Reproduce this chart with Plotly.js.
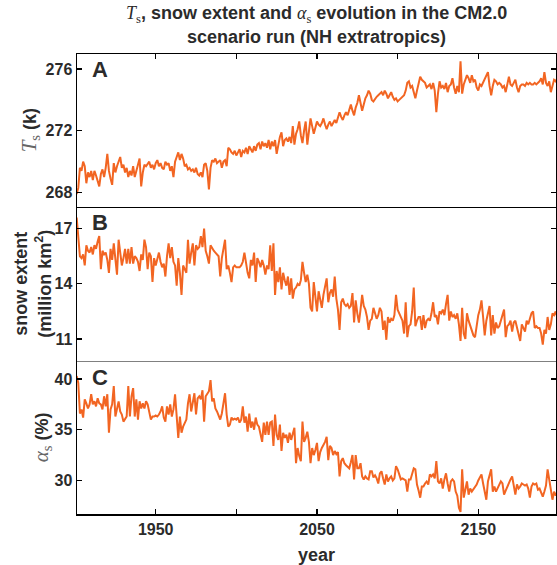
<!DOCTYPE html>
<html>
<head>
<meta charset="utf-8">
<script src="https://cdn.plot.ly/plotly-3.0.1.min.js"></script>
<style>html,body{margin:0;padding:0;background:#fff;}#chart{width:557px;height:565px;}</style>
</head>
<body>
<div id="chart"></div>
<script>
const startYear = 1901;

const surfaceTemp = [
267.9,268.3,269.6,269.4,270.0,269.7,268.6,269.3,269.0,269.4,
268.8,269.4,269.1,268.7,268.4,269.2,269.5,269.0,269.6,270.5,
269.4,268.9,268.5,269.9,269.3,269.7,270.0,270.3,269.6,269.8,
269.3,269.6,269.0,269.4,269.1,269.7,269.0,269.5,269.8,270.2,
268.4,269.3,269.8,269.7,269.9,270.0,269.6,269.8,269.5,269.9,
270.1,269.7,269.9,269.6,269.5,270.0,269.8,269.9,269.4,269.7,
269.0,270.0,270.3,270.6,270.1,270.5,270.2,269.7,269.8,269.5,
269.6,269.4,269.5,269.3,269.6,269.2,269.1,269.3,269.0,269.8,
269.9,269.4,268.2,269.6,270.1,270.0,270.2,269.9,270.0,270.1,
269.6,270.0,270.1,269.7,270.9,270.8,270.6,270.5,270.7,270.4,
270.6,270.8,270.3,270.7,270.6,270.9,270.5,271.0,270.8,270.6,
271.0,270.7,271.1,271.2,270.8,271.3,271.0,271.2,270.9,271.4,
270.8,271.3,271.0,271.4,270.5,271.2,271.6,271.9,271.0,271.4,
271.5,271.3,271.6,271.2,272.3,271.1,271.8,272.1,272.6,271.7,
271.2,272.0,272.6,271.1,272.2,272.8,272.3,271.8,272.2,272.6,
272.4,272.3,272.5,272.8,272.4,272.1,272.4,272.6,272.3,272.5,
272.7,272.5,272.9,273.2,272.9,272.7,273.0,273.2,273.0,273.4,
273.7,273.3,273.0,273.5,273.8,274.3,273.8,273.3,273.7,274.1,
274.3,274.6,274.4,274.0,273.9,274.1,274.2,274.3,274.4,274.5,
274.3,274.6,274.4,274.1,274.3,274.5,274.2,274.0,274.1,273.9,
274.0,274.1,274.2,274.3,274.6,275.1,275.2,274.8,274.9,274.5,
274.1,274.6,275.0,275.5,275.3,275.2,275.1,274.8,274.9,275.0,
274.7,275.1,274.6,273.2,274.4,275.2,274.8,274.9,274.7,275.1,
274.5,274.9,275.0,275.4,274.8,274.4,274.9,274.5,276.5,274.4,
275.0,275.3,275.6,275.4,275.1,275.6,275.2,275.3,274.8,274.6,
275.0,274.9,275.1,275.3,275.5,275.8,274.9,274.3,274.9,275.3,
275.2,275.0,275.1,275.0,274.8,274.9,274.5,275.1,275.5,275.0,
274.9,275.1,275.3,274.8,274.5,274.9,275.0,275.0,274.9,275.1,
275.0,275.1,275.0,275.0,275.1,275.0,275.1,275.2,275.4,275.0,
275.8,275.1,274.9,275.2,274.5,275.0,275.3,275.2,275.4,275.3
];

const snowExtent = [
17.6,16.4,15.5,15.4,15.6,15.0,16.1,15.8,15.7,16.0,
15.6,16.1,15.9,16.3,16.6,14.8,15.8,15.6,15.7,15.3,
14.6,15.9,15.3,16.2,15.5,14.5,16.4,15.6,15.0,15.4,
15.9,15.1,15.9,15.1,16.0,15.1,15.5,15.4,15.2,14.7,
15.6,15.3,16.4,16.0,14.8,15.7,15.5,14.1,15.4,15.0,
15.3,15.7,15.2,14.9,15.1,14.4,15.5,16.2,15.4,16.0,
15.2,15.0,13.9,15.4,14.6,13.4,15.0,14.8,14.6,16.4,
15.1,15.7,16.2,15.0,16.1,15.9,16.0,16.6,16.0,17.0,
15.8,15.5,15.1,16.1,15.9,15.8,15.7,15.6,15.5,14.4,
15.4,15.9,16.4,14.8,15.0,14.6,14.1,14.9,15.0,14.9,
14.9,14.9,15.0,15.2,15.7,15.0,14.6,14.3,15.3,15.0,
15.7,14.1,15.4,15.2,14.9,15.3,15.0,14.5,15.0,14.8,
16.1,14.7,16.2,13.4,14.7,14.1,14.9,13.7,14.6,14.2,
13.9,14.4,13.4,14.3,13.2,13.7,13.8,14.0,13.9,14.2,
15.2,14.6,14.1,14.5,14.0,12.7,12.5,14.1,13.2,12.5,
13.6,13.2,12.7,13.4,13.8,14.3,13.0,13.5,13.7,13.3,
14.4,13.2,12.6,11.5,13.0,13.2,12.9,12.8,12.9,12.7,
12.8,13.5,11.9,13.1,12.4,11.9,12.6,13.4,12.8,12.6,
12.2,11.5,12.0,12.1,12.7,12.4,12.1,12.3,12.7,12.5,
11.5,12.0,10.96,12.2,11.9,12.1,12.0,12.3,13.4,12.6,
12.4,12.2,12.0,11.3,13.0,11.1,11.7,11.8,12.5,13.8,
11.7,12.0,12.2,12.2,11.5,12.3,11.6,12.0,12.1,12.0,
12.4,13.0,12.2,12.3,11.8,12.5,12.4,12.6,12.3,12.9,
13.4,12.0,12.5,12.2,12.3,12.1,12.4,11.8,10.9,12.7,
11.3,11.0,12.4,12.0,11.7,11.4,11.2,11.1,11.7,12.3,
12.6,13.1,12.2,11.2,12.0,12.5,12.8,11.2,12.3,11.3,
11.9,11.6,11.7,12.0,12.3,12.6,11.1,11.7,11.8,12.0,
11.4,11.9,12.0,11.6,11.2,10.9,11.8,11.6,11.4,12.0,
11.8,12.1,12.4,12.5,11.6,11.7,11.6,11.6,11.3,10.7,
11.5,11.3,12.2,11.5,11.8,12.4,12.3,12.5,12.2,12.1
];

const albedo = [
40.3,39.6,36.6,37.0,36.2,38.0,37.6,37.1,37.5,38.5,
37.5,37.8,37.3,38.1,37.6,37.5,37.0,38.3,37.3,38.5,
34.7,37.0,37.5,39.3,36.3,37.0,37.8,36.8,36.5,35.8,
36.0,36.3,39.3,36.3,38.3,39.1,36.3,38.0,36.0,37.8,
37.1,37.6,37.1,37.8,37.5,36.8,36.0,36.3,36.3,36.4,
36.3,36.5,36.8,37.3,36.2,35.8,37.3,36.5,37.5,36.3,
37.0,38.5,35.7,34.2,36.3,34.7,35.3,35.6,36.0,37.6,
38.5,36.8,37.8,38.6,36.5,38.1,38.3,38.0,38.9,35.8,
38.3,38.5,38.8,39.9,37.8,38.1,37.1,36.8,36.3,36.0,
36.6,37.8,38.6,36.5,35.3,35.5,36.2,36.0,36.1,36.0,
36.2,35.7,36.0,37.3,35.7,36.3,34.8,36.6,35.2,35.8,
35.0,36.2,35.5,35.3,34.6,33.8,35.7,34.5,35.8,34.5,
35.7,35.8,33.4,36.5,34.5,34.0,35.5,32.9,34.7,34.2,
34.5,33.7,34.7,34.0,34.6,35.2,31.7,33.2,32.4,31.9,
35.8,33.8,34.2,34.8,33.8,31.7,33.2,32.5,33.0,33.7,
31.9,32.8,33.2,33.5,33.8,34.3,32.0,33.4,33.2,32.5,
32.9,32.6,32.8,30.4,31.9,32.2,31.7,31.5,31.3,31.2,
31.8,32.5,30.1,32.5,31.2,31.2,31.7,30.4,30.1,30.4,
30.2,30.1,30.9,30.9,30.3,30.5,30.2,29.7,30.7,30.9,
30.2,29.6,30.6,29.9,30.2,30.4,30.0,30.2,31.4,31.1,
30.6,30.1,30.2,30.1,30.0,28.9,30.1,30.1,30.6,31.2,
31.1,29.6,29.0,28.3,29.4,29.4,29.7,29.9,29.6,30.6,
30.4,30.6,30.2,31.9,29.9,29.7,30.2,29.2,30.1,30.7,
29.7,28.9,29.9,30.1,29.9,28.9,28.5,27.3,26.9,31.1,
28.3,29.1,29.9,28.6,29.2,28.9,29.1,29.4,29.6,30.0,
30.3,30.6,29.7,29.0,28.1,29.9,30.6,31.1,28.9,29.4,
28.9,29.2,29.5,29.9,29.7,28.6,29.0,29.4,29.8,30.1,
30.4,29.4,28.6,29.6,29.2,29.4,29.7,29.6,29.5,29.6,
29.2,28.3,29.4,29.7,29.6,29.7,29.1,29.2,28.8,28.4,
28.9,29.5,31.1,30.2,29.4,28.1,28.9,28.5,28.9,28.3
];

const xLabelTicks = [1950, 2050, 2150];
const xMinorTicks = [2000, 2100];
const xAllTicks = [1950, 2000, 2050, 2100, 2150];
const tsTicks = [268, 272, 276];
const snowTicks = [11, 14, 17];
const albedoTicks = [30, 35, 40];
const panelLetters = ['A', 'B', 'C'];

const years = [];
for (let i = 0; i < surfaceTemp.length; i++) years.push(startYear + i);

const lineColor = '#F26522';
const txt = '#2b2b2b';
const FONT = 'Liberation Sans, Arial, sans-serif';

function trace(y, xa, ya) {
  return {x: years, y: y, xaxis: xa, yaxis: ya, type: 'scatter', mode: 'lines',
    line: {color: lineColor, width: 2}, hoverinfo: 'skip', showlegend: false};
}

const xr = [1901.2, 2198.2];
function yax(domain, range, ticks) {
  return {domain: domain, range: range, tickvals: ticks, ticks: 'inside', ticklen: 5,
    tickwidth: 1.2, tickcolor: '#000', showline: true, linecolor: '#000', linewidth: 1.5,
    mirror: 'ticks', showgrid: false, zeroline: false,
    tickfont: {family: FONT, size: 16, color: txt, weight: 'bold'}};
}

const serif = "font-family:Liberation Serif, DejaVu Serif, serif;font-weight:normal";

const layout = {
  width: 557, height: 565,
  margin: {l: 77, r: 1, t: 54, b: 51},
  paper_bgcolor: '#fff', plot_bgcolor: '#fff',
  font: {family: FONT, color: txt},
  xaxis: {anchor: 'y', side: 'top', range: xr, tickvals: xAllTicks, showticklabels: false,
    ticks: 'inside', ticklen: 5, tickwidth: 1.2, tickcolor: '#000', showline: true,
    linecolor: '#000', linewidth: 1.5, mirror: true, showgrid: false, zeroline: false},
  xaxis2: {anchor: 'y2', range: xr, showticklabels: false, ticks: '', showline: true,
    linecolor: '#808080', linewidth: 1.5, showgrid: false, zeroline: false},
  xaxis3: {anchor: 'y3', range: xr, tickvals: xLabelTicks,
    ticks: 'inside', ticklen: 5, tickwidth: 1.2, tickcolor: '#000', showline: true,
    linecolor: '#000', linewidth: 1.5, showgrid: false, zeroline: false,
    minor: {tickvals: xMinorTicks, ticks: 'inside', ticklen: 5, tickwidth: 1.2, tickcolor: '#000', showgrid: false},
    tickfont: {family: FONT, size: 16, color: txt, weight: 'bold'}},
  yaxis: yax([0.6683, 1], [267.09, 276.97], tsTicks),
  yaxis2: yax([0.3331, 0.6683], [9.82, 18.2], snowTicks),
  yaxis3: yax([0, 0.3331], [26.69, 41.8], albedoTicks),
  annotations: [
    {text: '<span style="' + serif + '"><i>T</i><sub>s</sub></span>, snow extent and <span style="' + serif + '"><i>α</i><sub>s</sub></span> evolution in the CM2.0',
     xref: 'paper', yref: 'paper', x: 0.5, y: 1, xanchor: 'center', yanchor: 'middle', yshift: 40,
     showarrow: false, font: {family: FONT, size: 18, color: txt, weight: 'bold'}},
    {text: 'scenario run (NH extratropics)',
     xref: 'paper', yref: 'paper', x: 0.5, y: 1, xanchor: 'center', yanchor: 'middle', yshift: 17,
     showarrow: false, font: {family: FONT, size: 18, color: txt, weight: 'bold'}},
    {text: panelLetters[0], xref: 'paper', yref: 'paper', x: 0, y: 1, xanchor: 'center', yanchor: 'middle',
     xshift: 22.5, yshift: -15.5, showarrow: false, font: {family: FONT, size: 22, color: txt, weight: 'bold'}},
    {text: panelLetters[1], xref: 'paper', yref: 'paper', x: 0, y: 0.6683, xanchor: 'center', yanchor: 'middle',
     xshift: 22.5, yshift: -16.3, showarrow: false, font: {family: FONT, size: 22, color: txt, weight: 'bold'}},
    {text: panelLetters[2], xref: 'paper', yref: 'paper', x: 0, y: 0.3331, xanchor: 'center', yanchor: 'middle',
     xshift: 22.5, yshift: -17, showarrow: false, font: {family: FONT, size: 22, color: txt, weight: 'bold'}},
    {text: '<span style="' + serif + ';fill:#666;font-size:21px"><i>T</i><sub>s</sub></span> (k)', textangle: -90,
     xref: 'paper', yref: 'paper', x: 0, y: 0.834, xanchor: 'center', yanchor: 'middle', xshift: -47,
     showarrow: false, font: {family: FONT, size: 18, color: txt, weight: 'bold'}},
    {text: 'snow extent<br>(million km<sup>2</sup>)', textangle: -90,
     xref: 'paper', yref: 'paper', x: 0, y: 0.5007, xanchor: 'center', yanchor: 'middle', xshift: -44,
     showarrow: false, font: {family: FONT, size: 18, color: txt, weight: 'bold'}},
    {text: '<span style="' + serif + ';fill:#666;font-size:21px"><i>α</i><sub>s</sub></span> (%)', textangle: -90,
     xref: 'paper', yref: 'paper', x: 0, y: 0.1666, xanchor: 'center', yanchor: 'middle', xshift: -35,
     showarrow: false, font: {family: FONT, size: 18, color: txt, weight: 'bold'}},
    {text: 'year', xref: 'paper', yref: 'paper', x: 0.5, y: 0, xanchor: 'center', yanchor: 'middle',
     yshift: -41, showarrow: false, font: {family: FONT, size: 18, color: txt, weight: 'bold'}}
  ]
};

Plotly.newPlot('chart', [
  trace(surfaceTemp, 'x', 'y'),
  trace(snowExtent, 'x2', 'y2'),
  trace(albedo, 'x3', 'y3')
], layout, {displayModeBar: false, staticPlot: true});
</script>
</body>
</html>
